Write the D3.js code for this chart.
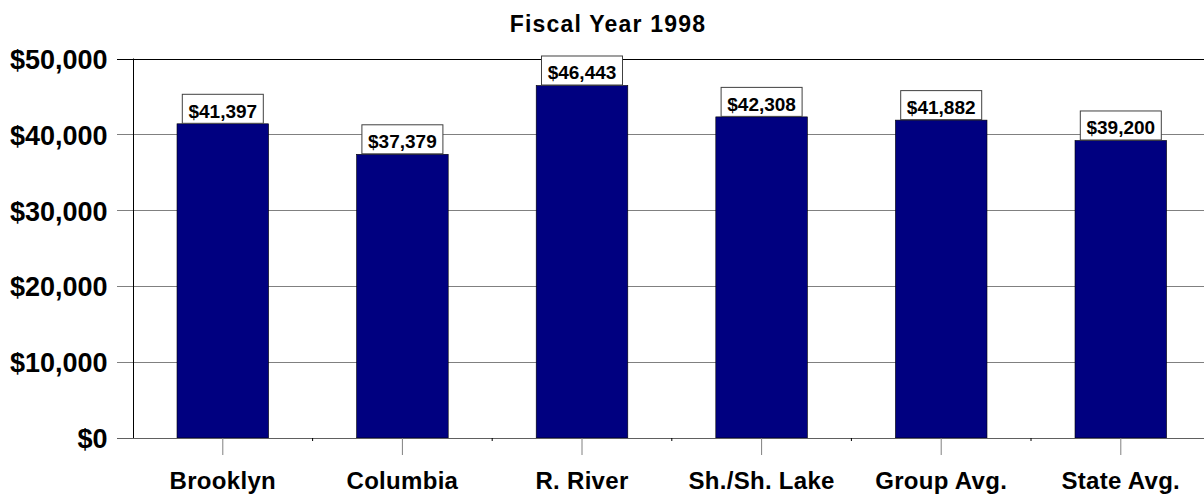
<!DOCTYPE html>
<html><head><meta charset="utf-8">
<script src="https://cdn.jsdelivr.net/npm/d3@7"></script>
<style>body{margin:0;background:#fff}svg{display:block}</style>
</head><body>
<script>
const categories = ["Brooklyn","Columbia","R. River","Sh./Sh. Lake","Group Avg.","State Avg."];
const values = [41397,37379,46443,42308,41882,39200];
const yTicks = [0,10000,20000,30000,40000,50000];
const title = "Fiscal Year 1998";

const W=1204,H=497;
const svg=d3.select("body").append("svg").attr("width",W).attr("height",H);
const x0=133, x1=133+6*179.6;
const x=d3.scaleBand().domain(categories).range([x0,x1]).paddingInner(0.49).paddingOuter(0.245);
const y=d3.scaleLinear().domain([0,50000]).range([438,58.5]);
const fmt=v=>"$"+d3.format(",")(v);
const font="Arial, 'Liberation Sans', sans-serif";

// gridlines
svg.append("g").selectAll("line").data(yTicks.filter(d=>d>0)).join("line")
  .attr("x1",117).attr("x2",W).attr("y1",d=>Math.round(y(d))+0.5).attr("y2",d=>Math.round(y(d))+0.5)
  .attr("stroke",d=>d===50000?"#000":"#808080").attr("stroke-width",1);
// y axis
const yAxis=d3.axisLeft(y).tickValues(yTicks).tickFormat(fmt).tickSize(0).tickPadding(26);
const yg=svg.append("g").attr("transform",`translate(${x0+0.5},0)`).call(yAxis);
yg.select(".domain").remove();
yg.selectAll("text").attr("font-family",font).attr("font-size",27).attr("font-weight","bold").attr("fill","#000").attr("dy","0.36em");
svg.append("line").attr("x1",x0+0.5).attr("x2",x0+0.5).attr("y1",58.5).attr("y2",438).attr("stroke","#000");

// bars
svg.append("g").selectAll("rect").data(values).join("rect")
  .attr("x",(d,i)=>x(categories[i])).attr("width",x.bandwidth())
  .attr("y",d=>y(d)).attr("height",d=>y(0)-y(d))
  .attr("fill","#000080").attr("stroke","#000").attr("stroke-width",0.6);

// x axis
svg.append("line").attr("x1",117).attr("x2",W).attr("y1",438.5).attr("y2",438.5).attr("stroke","#606060");
const xAxis=d3.axisBottom(x).tickSize(17).tickPadding(16);
const xg=svg.append("g").attr("transform","translate(0,438)").call(xAxis);
xg.select(".domain").remove();
xg.selectAll(".tick line").attr("stroke","#808080");
xg.selectAll("text").attr("font-family",font).attr("font-size",24).attr("font-weight","bold").attr("fill","#000")
  .attr("y",51).attr("dy",0).attr("letter-spacing",0.3);
// small boundary ticks
svg.append("g").selectAll("line").data(d3.range(1,6)).join("line")
  .attr("x1",i=>x0+i*x.step()).attr("x2",i=>x0+i*x.step()).attr("y1",438).attr("y2",441).attr("stroke","#000");

// value labels
const lg=svg.append("g").selectAll("g").data(values).join("g")
  .attr("transform",(d,i)=>`translate(${x(categories[i])+x.bandwidth()/2},${y(d)})`);
lg.append("rect").attr("x",-40.5).attr("y",-29.5).attr("width",81).attr("height",29)
  .attr("fill","#fff").attr("stroke","#404040").attr("stroke-width",1);
lg.append("text").attr("text-anchor","middle").attr("y",-6).text(d=>fmt(d))
  .attr("font-family",font).attr("font-size",19).attr("font-weight","bold").attr("fill","#000");

// title
svg.append("text").attr("x",608).attr("y",31.5).attr("text-anchor","middle").text(title)
  .attr("font-family",font).attr("font-size",23).attr("font-weight","bold").attr("letter-spacing",1.2);
</script>
</body></html>
